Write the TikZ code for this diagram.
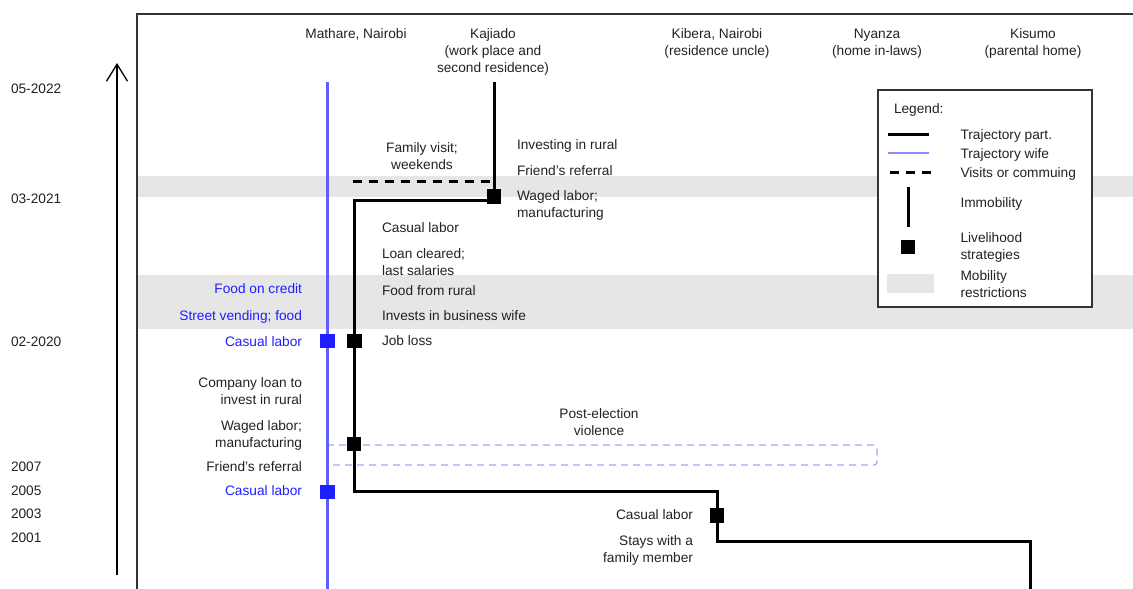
\documentclass[tikz,border=0pt]{standalone}
\usepackage{fontspec}
\setmainfont{Liberation Sans}
\usetikzlibrary{arrows.meta}

\definecolor{ink}{HTML}{222222}
\definecolor{wife}{RGB}{30,30,255}
\definecolor{wifeline}{RGB}{95,95,255}
\definecolor{wifelight}{RGB}{140,140,255}
\definecolor{violence}{RGB}{165,165,255}
\definecolor{restrict}{HTML}{E6E6E6}
\definecolor{framegray}{HTML}{333333}

\begin{document}
\begin{tikzpicture}[x=1pt,y=-1pt,
  every node/.style={inner sep=0pt, outer sep=0pt, text=ink,
    font=\fontsize{13.7}{17}\selectfont},
  lbl/.style={anchor=mid west, yshift=-2.5pt},
  lblr/.style={anchor=mid east, yshift=-2.5pt},
  lblc/.style={anchor=mid, yshift=-2.5pt},
  multl/.style={anchor=west, align=left, yshift=-2pt},
  multr/.style={anchor=east, align=right, yshift=-2pt},
  multc/.style={anchor=center, align=center, yshift=-2pt},
  wlbl/.style={lblr, text=wife},
  traj/.style={line width=3pt, draw=black},
  wtraj/.style={draw=wifeline, line width=2.2pt},
  strat/.style={fill=black, minimum size=14.5pt, draw=none},
  wstrat/.style={fill=wife, minimum size=14.5pt, draw=none},
  band/.style={fill=restrict, draw=none},
  visit/.style={draw=black, line width=3pt, dash pattern=on 9pt off 7pt},
]
\useasboundingbox (0,0) rectangle (1133,589);

% mobility restriction periods
\fill[band] (137,176) rectangle (1133,197);
\fill[band] (137,275) rectangle (1133,329);

% frame and time axis
\draw[framegray, line width=2pt] (137,589) -- (137,14) -- (1133,14);
\coordinate (axbot) at (117,575);
\coordinate (axtop) at (117,63);
\draw[black, line width=1.3pt,
  -{Straight Barb[length=17pt, width=21pt, line width=1.3pt]}] (axbot) -- (axtop);

% dates
\node[lbl] (d22) at (11,88) {05-2022};
\node[lbl] (d21) at (11,198) {03-2021};
\node[lbl] (d20) at (11,341) {02-2020};
\node[lbl] (d07) at (11,466) {2007};
\node[lbl] (d05) at (11,490) {2005};
\node[lbl] (d03) at (11,513) {2003};
\node[lbl] (d01) at (11,537) {2001};

% places
\node[lblc] (pmat) at (356,33) {Mathare, Nairobi};
\node[multc] (pkaj) at (493,50) {Kajiado\\(work place and\\second residence)};
\node[multc] (pkib) at (717,41.5) {Kibera, Nairobi\\(residence uncle)};
\node[multc] (pnya) at (877,41.5) {Nyanza\\(home in-laws)};
\node[multc] (pkis) at (1033,41.5) {Kisumo\\(parental home)};

% post-election violence
\draw[violence, line width=1.3pt, dash pattern=on 7pt off 5pt, rounded corners=3pt]
  (327,445) -- (877,445) -- (877,465) -- (327,465);
\node[multc] (pev) at (599,420.5) {Post-election\\violence};

% trajectory of the wife
\coordinate (wtop) at (327.5,82);
\coordinate (wbot) at (327.5,589);
\draw[wtraj] (wtop) -- (wbot);

% trajectory of the participant
\coordinate (k0) at (494,82);
\coordinate (k1) at (494,200);
\coordinate (m1) at (354,200);
\coordinate (m2) at (354,491);
\coordinate (b1) at (717,491);
\coordinate (b2) at (717,541);
\coordinate (s1) at (1030,541);
\coordinate (s2) at (1030,589);
\draw[traj, line join=miter] (k0) -- (k1) -- (m1) -- (m2) -- (b1) -- (b2) -- (s1) -- (s2);

% visits between Kajiado and Mathare
\coordinate (v0) at (353,181);
\coordinate (v1) at (494,181);
\draw[visit] (v0) -- (v1);
\node[multc] (fvis) at (422,154.5) {Family visit;\\weekends};

% livelihood strategies
\node[strat] (sq1) at (494,196.5) {};
\node[strat] (sq2) at (354.5,341) {};
\node[strat] (sq3) at (354,444) {};
\node[strat] (sq4) at (717,515.5) {};
\node[wstrat] (w1) at (327.5,341) {};
\node[wstrat] (w2) at (327.5,492) {};

% labels right of Kajiado
\node[lbl] (r1) at (517,144) {Investing in rural};
\node[lbl] (r2) at (517,170) {Friend's referral};
\node[multl] (r3) at (517,203.5) {Waged labor;\\manufacturing};

% labels right of the Mathare trajectory
\node[lbl] (m01) at (382,227) {Casual labor};
\node[multl] (m02) at (382,260.5) {Loan cleared;\\last salaries};
\node[lbl] (m03) at (382,290) {Food from rural};
\node[lbl] (m04) at (382,315.5) {Invests in business wife};
\node[lbl] (m05) at (382,340) {Job loss};

% labels left of the wife's line
\node[wlbl] (l1) at (302,288) {Food on credit};
\node[wlbl] (l2) at (302,315) {Street vending; food};
\node[wlbl] (l3) at (302,341) {Casual labor};
\node[multr] (l4) at (302,389.5) {Company loan to\\invest in rural};
\node[multr] (l5) at (302,433.5) {Waged labor;\\manufacturing};
\node[lblr] (l6) at (302,466) {Friend's referral};
\node[wlbl] (l7) at (302,490.5) {Casual labor};

% labels at Kibera
\node[lblr] (k01) at (693,514.5) {Casual labor};
\node[multr] (k02) at (693,548) {Stays with a\\family member};

% legend
\node[draw=framegray, line width=1.2pt, fill=white,
  minimum width=214pt, minimum height=217pt] (legend) at (985,198.5) {};
\node[lbl] (lgt) at (894,108) {Legend:};
\draw[traj] (888,134) -- (929,134);
\draw[wifelight, line width=1.2pt] (888,153) -- (929,153);
\draw[visit] (890,172) -- (934,172);
\draw[traj] (908,187) -- (908,227);
\node[strat] (lgsq) at (908,247) {};
\fill[band] (887,274) rectangle (934,293);
\node[lbl] (lg1) at (960.5,134) {Trajectory part.};
\node[lbl] (lg2) at (960.5,153) {Trajectory wife};
\node[lbl] (lg3) at (960.5,172) {Visits or commuing};
\node[lbl] (lg4) at (960.5,202) {Immobility};
\node[multl] (lg5) at (960.5,245.5) {Livelihood\\strategies};
\node[multl] (lg6) at (960.5,282) {Mobility\\restrictions};
\end{tikzpicture}
\end{document}
